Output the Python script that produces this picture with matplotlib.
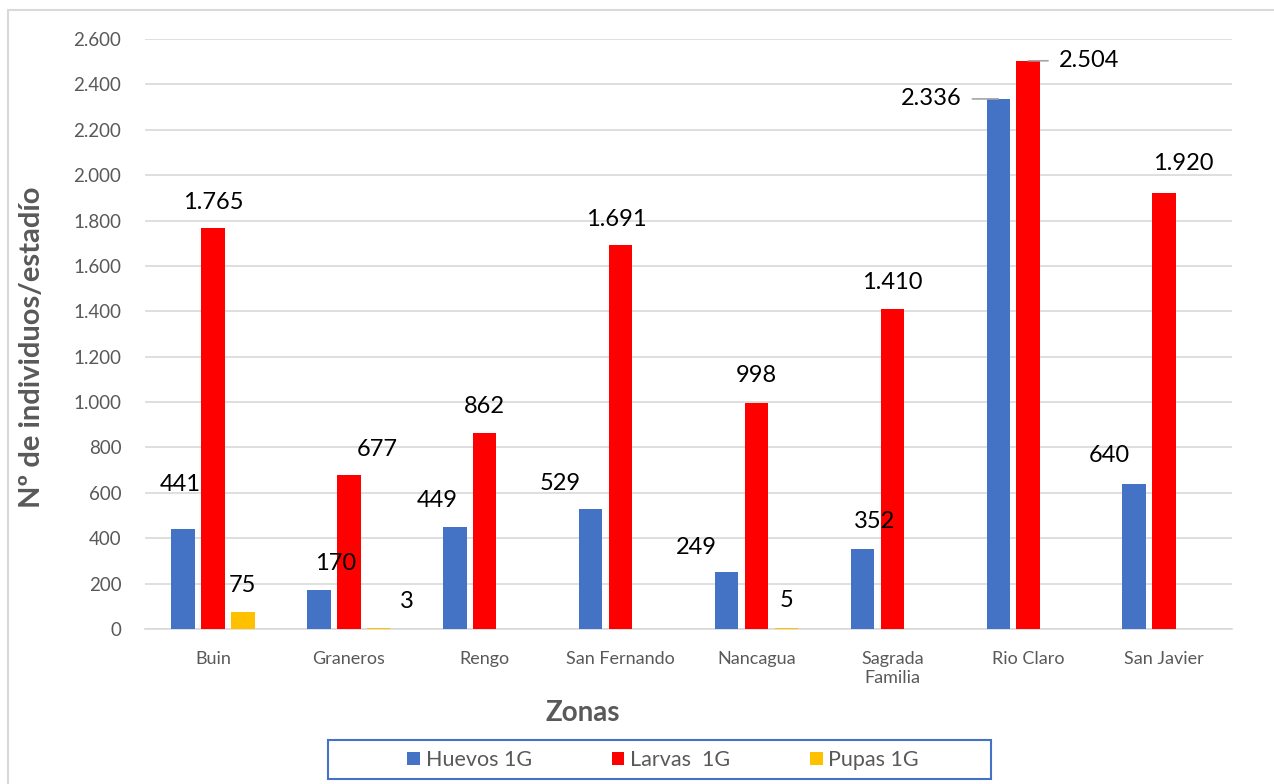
import numpy as np
import matplotlib.pyplot as plt
from matplotlib.patches import Rectangle

plt.rcParams['font.family'] = ['Lato', 'DejaVu Sans']

zonas = ['Buin', 'Graneros', 'Rengo', 'San Fernando', 'Nancagua',
         'Sagrada\nFamilia', 'Rio Claro', 'San Javier']
huevos = [441, 170, 449, 529, 249, 352, 2336, 640]
larvas = [1765, 677, 862, 1691, 998, 1410, 2504, 1920]
pupas = [75, 3, 0, 0, 5, 0, 0, 0]
series_names = ['Huevos 1G', 'Larvas  1G', 'Pupas 1G']
colors = ['#4472C4', '#FF0000', '#FFC000']

# label offsets in pixels (dx, dy) relative to the bar top, None = no label
offs_h = [(-3, 44), (17, 27), (-18, 27), (-30, 25), (-30, 25), (12, 28), None, (-25, 28)]
offs_l = [(0, 26), (28, 26), (0, 27), (-4, 26), (0, 27), (0, 27), None, (19, 30)]
offs_p = [(0, 26), (28, 27), None, None, (0, 27), None, None, None]

fig = plt.figure(figsize=(12.74, 7.84), dpi=100)
ax = fig.add_axes([145/1274, 1 - 629/784, 1087/1274, 590/784])

x = np.arange(len(zonas))
w = 0.173
step = 0.22
gray = '#595959'
lab_fs = 17

def fmt(v):
    return f"{v:,}".replace(',', '.')

for k, (vals, offs) in enumerate([(huevos, offs_h), (larvas, offs_l), (pupas, offs_p)]):
    xs = x + (k - 1) * step
    ax.bar(xs, vals, width=w, color=colors[k], label=series_names[k], zorder=3)
    for xi, v, o in zip(xs, vals, offs):
        if o is None:
            continue
        ax.annotate(fmt(v), (xi, v), xytext=(o[0]*0.72, o[1]*0.72),
                    textcoords='offset points', ha='center', va='center',
                    fontsize=lab_fs, color='black', zorder=5)

# Rio Claro labels with leader lines
i = 6
ax.annotate(fmt(huevos[i]), (i - step, huevos[i]), xytext=(-37*0.72, 0),
            textcoords='offset points', ha='right', va='center', fontsize=lab_fs, zorder=5,
            arrowprops=dict(arrowstyle='-', color='#A6A6A6', lw=1.2, shrinkA=6, shrinkB=0))
ax.annotate(fmt(larvas[i]), (i, larvas[i]), xytext=(31*0.72, 0),
            textcoords='offset points', ha='left', va='center', fontsize=lab_fs, zorder=5,
            arrowprops=dict(arrowstyle='-', color='#A6A6A6', lw=1.2, shrinkA=6, shrinkB=0))

ax.set_xlim(-0.5, len(zonas) - 0.5)
ax.set_ylim(0, 2600)
ax.set_yticks(np.arange(0, 2601, 200))
ax.set_yticklabels([fmt(t) for t in range(0, 2601, 200)])
ax.set_xticks(x)
ax.set_xticklabels(zonas, va='top')
ax.tick_params(axis='both', length=0, colors=gray, labelsize=13.5)
ax.tick_params(axis='x', pad=16, labelsize=13)
ax.tick_params(axis='y', pad=17)
ax.grid(axis='y', color='#D9D9D9', lw=1.2, zorder=0)
for s in ['top', 'right', 'left']:
    ax.spines[s].set_visible(False)
ax.spines['bottom'].set_color('#D9D9D9')
ax.spines['bottom'].set_linewidth(1.2)

ax.set_ylabel('Nº de individuos/estadío', fontsize=21, fontweight='bold', color=gray)
ax.yaxis.set_label_coords(-0.092, 0.478)
ax.set_xlabel('Zonas', fontsize=20, fontweight='bold', color=gray)
ax.xaxis.set_label_coords(0.403, -0.121)

leg = fig.legend(loc='center', bbox_to_anchor=(663/1274, 1 - 760/784), ncol=3, frameon=False,
                 fontsize=15.5, handlelength=0.6, handleheight=0.6, handletextpad=0.25,
                 columnspacing=3.7, labelcolor=gray)

fig.patches.append(Rectangle((328/1274, 1 - 779/784), 663/1274, 39/784, transform=fig.transFigure,
                             fill=False, edgecolor='#4472C4', lw=1.5))
fig.patches.append(Rectangle((8/1274, -0.05), 1.2, 1 - 10/784 + 0.05, transform=fig.transFigure,
                             fill=False, edgecolor='#D9D9D9', lw=1.5))

fig.savefig('out.png', dpi=100)
